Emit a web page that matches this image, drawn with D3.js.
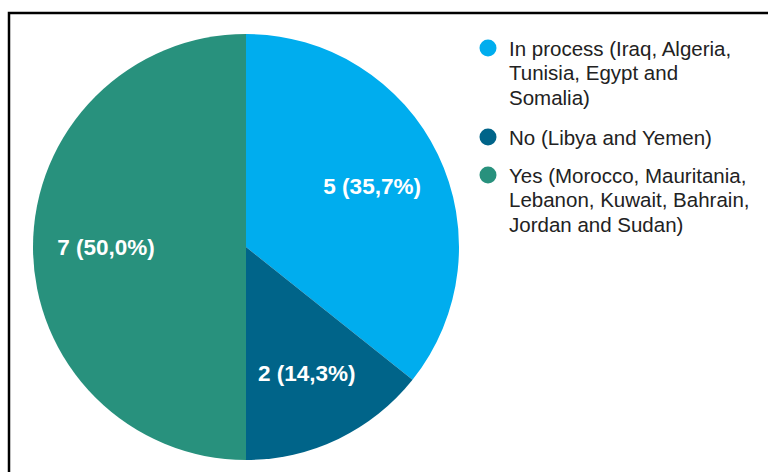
<!DOCTYPE html>
<html>
<head>
<meta charset="utf-8">
<script src="https://cdn.jsdelivr.net/npm/d3@7"></script>
<style>
  html, body { margin: 0; padding: 0; background: #fff; }
  svg { display: block; }
</style>
</head>
<body>
<svg id="chart" width="768" height="472"></svg>
<script>
const categories = ["In process", "No", "Yes"];
const values = [5, 2, 7];
const percentLabels = ["35,7%", "14,3%", "50,0%"];
const legendLabels = [
  ["In process (Iraq, Algeria,", "Tunisia, Egypt and", "Somalia)"],
  ["No (Libya and Yemen)"],
  ["Yes (Morocco, Mauritania,", "Lebanon, Kuwait, Bahrain,", "Jordan and Sudan)"]
];
const colors = ["#00adee", "#006489", "#28917d"];

const svg = d3.select("#chart");

// frame
svg.append("rect")
  .attr("x", 9).attr("y", 13)
  .attr("width", 800).attr("height", 500)
  .attr("fill", "none").attr("stroke", "#000").attr("stroke-width", 2.5);

const cx = 246, cy = 247, R = 213;
const color = d3.scaleOrdinal().domain(categories).range(colors);

const pie = d3.pie().sort(null).value(d => d.value);
const data = pie(categories.map((c, i) => ({ cat: c, value: values[i], pct: percentLabels[i] })));

const arc = d3.arc().innerRadius(0).outerRadius(R);
const labelArc = d3.arc().innerRadius(140).outerRadius(140);

const g = svg.append("g").attr("transform", `translate(${cx},${cy})`);
g.selectAll("path.slice").data(data).enter().append("path")
  .attr("class", "slice")
  .attr("d", arc)
  .attr("fill", d => color(d.data.cat))
  .attr("stroke", "none");

g.selectAll("text.lbl").data(data).enter().append("text")
  .attr("class", "lbl")
  .attr("transform", d => `translate(${labelArc.centroid(d)})`)
  .attr("text-anchor", "middle")
  .attr("dy", "0.36em")
  .attr("fill", "#fff")
  .attr("font-family", "Liberation Sans, Arial, sans-serif")
  .attr("font-weight", "bold")
  .attr("font-size", 22.5)
  .text(d => `${d.data.value} (${d.data.pct})`);

// legend
const legendX = 488;
const legendY = [48, 137, 175];
const lineH = 24.7;
const lg = svg.append("g");
categories.forEach((c, i) => {
  lg.append("circle")
    .attr("cx", legendX).attr("cy", legendY[i]).attr("r", 8.5)
    .attr("fill", color(c));
  const t = lg.append("text")
    .attr("x", legendX + 21).attr("y", legendY[i] + 7.5)
    .attr("fill", "#222")
    .attr("font-family", "Liberation Sans, Arial, sans-serif")
    .attr("font-size", 20.5);
  legendLabels[i].forEach((line, j) => {
    t.append("tspan").attr("x", legendX + 21).attr("dy", j === 0 ? 0 : lineH).text(line);
  });
});
</script>
</body>
</html>
